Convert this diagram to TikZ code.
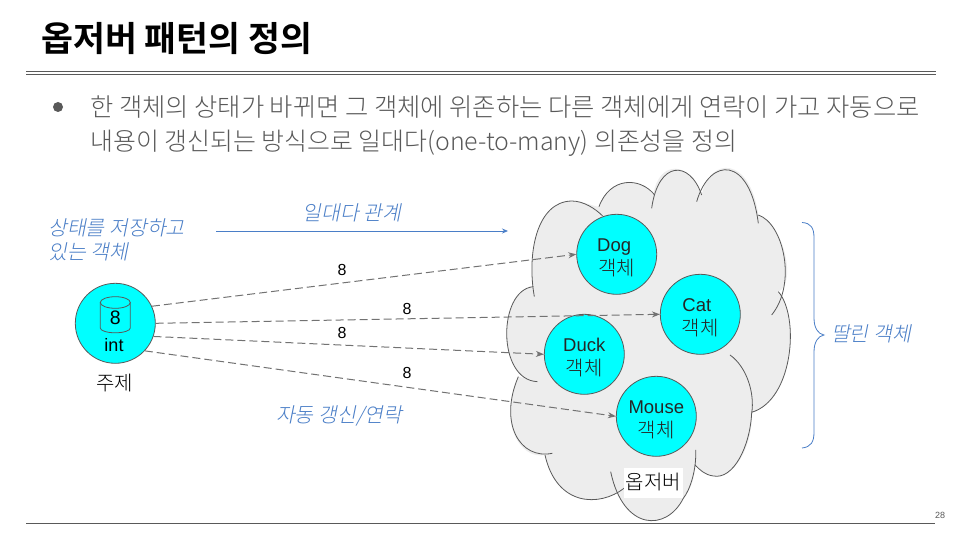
\documentclass[tikz,border=0pt]{standalone}
\usepackage{fontspec}
\setmainfont{Liberation Sans}
\newfontfamily\krlight{Noto Sans CJK KR Light}
\newfontfamily\krbold{Noto Sans CJK KR Bold}
\newfontfamily\krit[FakeSlant=0.2]{Noto Sans CJK KR Light}
\usetikzlibrary{arrows.meta}
\definecolor{txt}{HTML}{595959}
\definecolor{blu}{HTML}{4A7EC7}
\definecolor{cya}{HTML}{00FFFF}
\definecolor{edge}{HTML}{595959}
\tikzset{
 obj/.style={circle,draw=edge,fill=cya,line width=.8pt,minimum size=80pt,inner sep=0pt,align=center,font=\fontsize{18.5}{22}\selectfont,text=black!85},
 dep/.style={draw=edge!85,line width=1pt,dash pattern=on 8pt off 4pt,-{Stealth[length=8pt,width=6pt]}},
 lbl/.style={font=\fontsize{16}{16}\selectfont,text=black,inner sep=0pt},
 note/.style={text=blu,font=\krit\fontsize{20.5}{24}\selectfont,inner sep=0pt,align=left},
 cl/.style={draw=edge,line width=.8pt},
 rule/.style={draw=txt,line width=.8pt},
 ko/.style={font=\krlight\fontsize{20}{24}\selectfont}
}
\newcommand{\objlabel}[1]{\rule{0pt}{20pt}#1\\[1.5pt]{\krlight\fontsize{20}{22}\selectfont 객체}}
\begin{document}
\begin{tikzpicture}[x=1pt,y=-1pt]
\useasboundingbox[fill=white] (0,0) rectangle (960,540);
% title
\node[anchor=west,inner sep=0pt,font=\krbold\fontsize{34.7}{38}\selectfont] (title) at (41,39) {옵저버 패턴의 정의};
\coordinate (r1a) at (26,71); \coordinate (r1b) at (936,71);
\coordinate (r2a) at (26,74); \coordinate (r2b) at (936,74);
\draw[rule] (r1a)--(r1b); \draw[rule] (r2a)--(r2b);
\fill[txt] (58,107) circle (5);
\node[anchor=west,inner sep=0pt,text=txt,font=\krlight\fontsize{25.3}{34}\selectfont,align=left] (body) at (90,126)
 {한 객체의 상태가 바뀌면 그 객체에 위존하는 다른 객체에게 연락이 가고 자동으로\\{\fontsize{24.9}{34}\selectfont 내용이 갱신되는 방식으로 일대다(one-to-many) 의존성을 정의}};
% cloud
\begin{scope}[shift={(500,160)},x=.3333pt,y=-.3333pt]
\fill[black!7] (103,410) .. controls (80,280) and (110,125) .. (215,123) .. controls (250,123) and (280,140) .. (297,140)
 .. controls (330,50) and (420,50) .. (460,105) .. controls (475,0) and (570,0) .. (605,105)
 .. controls (630,-12) and (750,-12) .. (775,165) .. controls (850,190) and (892,370) .. (835,395)
 .. controls (900,470) and (880,720) .. (755,757)
 .. controls (760,860) and (700,960) .. (640,948) .. controls (615,945) and (600,930) .. (585,915)
 .. controls (585,960) and (565,1000) .. (550,1015) .. controls (500,1115) and (370,1115) .. (332,935)
 -- (372,985) .. controls (300,1041) and (170,1041) .. (135,885) .. controls (60,900) and (-5,790) .. (55,650)
 -- (112,665) .. controls (-10,660) and (-7,390) .. (100,380) -- cycle;
\draw[cl] (103,410) .. controls (80,280) and (110,125) .. (215,123) .. controls (250,123) and (285,145) .. (308,168);
\draw[cl] (297,140) .. controls (330,50) and (420,50) .. (464,105);
\draw[cl] (455,145) .. controls (475,0) and (570,0) .. (605,105);
\draw[cl] (590,125) .. controls (630,-12) and (750,-12) .. (775,190);
\draw[cl] (775,165) .. controls (850,190) and (892,370) .. (815,465);
\draw[cl] (835,395) .. controls (900,470) and (880,720) .. (755,757);
\draw[cl] (690,585) .. controls (740,620) and (765,700) .. (755,760) .. controls (750,860) and (700,960) .. (640,948) .. controls (615,945) and (600,930) .. (585,915);
\draw[cl] (587,870) .. controls (590,930) and (570,990) .. (550,1015) .. controls (500,1115) and (370,1115) .. (332,935);
\draw[cl] (372,985) .. controls (300,1041) and (170,1041) .. (135,885);
\draw[cl] (157,880) .. controls (60,900) and (-5,790) .. (55,650);
\draw[cl] (112,665) .. controls (-10,660) and (-7,390) .. (100,380);
\end{scope}
% nodes
\node[obj] (dog) at (616.7,254.3) {\objlabel{Dog\hspace*{5pt}}};
\node[obj] (cat) at (700.3,314.3) {\objlabel{Cat\hspace*{7pt}}};
\node[obj] (duck) at (584.3,354.3) {\objlabel{Duck}};
\node[obj] (mouse) at (656.3,416.3) {\objlabel{Mouse}};
\node[obj] (subj) at (115.3,323.3) {};
% cylinder
\draw[edge,line width=.8pt] (100.3,302.5) -- (100.3,328) arc[start angle=180,delta angle=-180,x radius=15,y radius=4.8] -- (130.3,302.5);
\draw[edge,line width=.8pt] (115.3,302.5) ellipse[x radius=15,y radius=5.8];
\node[lbl,font=\fontsize{19.5}{20}\selectfont] (eight) at (115.3,318) {8};
\node[lbl,font=\fontsize{18}{18}\selectfont] (int) at (114,345) {int};
\node[inner sep=0pt,ko] (ju) at (114.5,383) {주제};
\node[fill=white,inner sep=0pt,minimum width=59pt,minimum height=30pt,ko] (ob) at (653.5,482.5) {옵저버};
% connectors
\draw[dep] (subj.25) -- (dog.180);
\draw[dep] (subj.0) -- (cat.180);
\draw[dep] (subj.-19) -- (duck.180);
\draw[dep] (subj.-43) -- (mouse.180);
\node[lbl] (n1) at (342,270) {8};
\node[lbl] (n2) at (407,309) {8};
\node[lbl] (n3) at (342,333) {8};
\node[lbl] (n4) at (407,373) {8};
% notes
\node[note,anchor=west] (state) at (48,239.5) {상태를 저장하고\\있는 객체};
\node[note] (one) at (352,213) {일대다 관계};
\coordinate (a1) at (216,231); \coordinate (a2) at (508,231);
\draw[blu,line width=.8pt,-{Stealth[length=6pt,width=5pt]}] (a1) -- (a2);
\node[note] (auto) at (339,415.5) {자동 갱신/연락};
\node[note] (ttal) at (871,334) {딸린 객체};
\draw[blu,line width=.8pt] (802,222.5) .. controls (811,223) and (814,228) .. (814,238) -- (814,318) .. controls (814,328) and (818,334) .. (824,335) .. controls (818,336) and (814,342) .. (814,352) -- (814,432) .. controls (814,442) and (811,447) .. (802,448);
% footer
\coordinate (f1) at (26,523); \coordinate (f2) at (935,523);
\draw[rule] (f1)--(f2);
\node[inner sep=0pt,text=txt,font=\fontsize{9}{9}\selectfont] (page) at (940,515) {28};
\end{tikzpicture}
\end{document}
